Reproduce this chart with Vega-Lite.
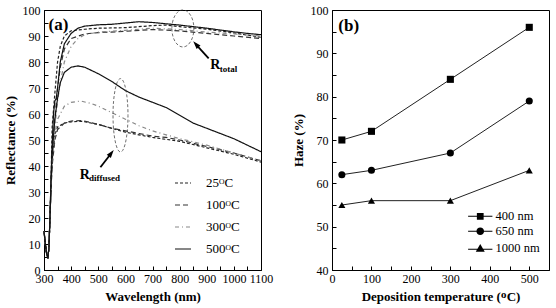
{
  "$schema": "https://vega.github.io/schema/vega-lite/v6.json",
  "background": "white",
  "padding": {"left": 3, "top": 3, "right": 5, "bottom": 2},
  "spacing": 17,
  "resolve": {"scale": {"color": "independent", "strokeDash": "independent", "shape": "independent"}, "legend": {"color": "independent", "strokeDash": "independent", "shape": "independent"}},
  "config": {
    "view": {"stroke": "black", "strokeWidth": 1},
    "font": "Liberation Serif",
    "axis": {
      "grid": false,
      "domainColor": "black",
      "tickColor": "black",
      "tickSize": -4,
      "labelFont": "Liberation Serif",
      "labelFontSize": 12,
      "labelColor": "black",
      "labelPadding": 7,
      "labelOverlap": false,
      "format": "d",
      "titleFont": "Liberation Serif",
      "titleFontSize": 13,
      "titleFontWeight": "bold",
      "titleColor": "black"
    },
    "legend": {"labelFont": "Liberation Serif", "labelColor": "black", "padding": 0}
  },
  "datasets": {
    "refl": [
      {"T":"25ᴼC","k":"total","wl":300,"R":15},{"T":"25ᴼC","k":"total","wl":305,"R":10},{"T":"25ᴼC","k":"total","wl":310,"R":6},{"T":"25ᴼC","k":"total","wl":314,"R":5},{"T":"25ᴼC","k":"total","wl":318,"R":8},{"T":"25ᴼC","k":"total","wl":322,"R":20},{"T":"25ᴼC","k":"total","wl":326,"R":35},
      {"T":"25ᴼC","k":"total","wl":330,"R":55},{"T":"25ᴼC","k":"total","wl":340,"R":68},{"T":"25ᴼC","k":"total","wl":350,"R":80},{"T":"25ᴼC","k":"total","wl":360,"R":86},{"T":"25ᴼC","k":"total","wl":375,"R":90},{"T":"25ᴼC","k":"total","wl":400,"R":92},{"T":"25ᴼC","k":"total","wl":450,"R":92.6},{"T":"25ᴼC","k":"total","wl":500,"R":93},{"T":"25ᴼC","k":"total","wl":600,"R":93.2},{"T":"25ᴼC","k":"total","wl":700,"R":94},{"T":"25ᴼC","k":"total","wl":750,"R":94.2},{"T":"25ᴼC","k":"total","wl":800,"R":93.6},{"T":"25ᴼC","k":"total","wl":900,"R":92.6},{"T":"25ᴼC","k":"total","wl":1000,"R":91.2},{"T":"25ᴼC","k":"total","wl":1100,"R":89.5},

      {"T":"100ᴼC","k":"total","wl":300,"R":15},{"T":"100ᴼC","k":"total","wl":305,"R":10},{"T":"100ᴼC","k":"total","wl":310,"R":6},{"T":"100ᴼC","k":"total","wl":314,"R":5},{"T":"100ᴼC","k":"total","wl":318,"R":8},{"T":"100ᴼC","k":"total","wl":322,"R":20},{"T":"100ᴼC","k":"total","wl":326,"R":33},
      {"T":"100ᴼC","k":"total","wl":330,"R":45},{"T":"100ᴼC","k":"total","wl":340,"R":58},{"T":"100ᴼC","k":"total","wl":350,"R":70},{"T":"100ᴼC","k":"total","wl":360,"R":78},{"T":"100ᴼC","k":"total","wl":375,"R":85},{"T":"100ᴼC","k":"total","wl":400,"R":89},{"T":"100ᴼC","k":"total","wl":450,"R":90.8},{"T":"100ᴼC","k":"total","wl":500,"R":91.3},{"T":"100ᴼC","k":"total","wl":600,"R":91.8},{"T":"100ᴼC","k":"total","wl":700,"R":92.5},{"T":"100ᴼC","k":"total","wl":800,"R":92},{"T":"100ᴼC","k":"total","wl":900,"R":91},{"T":"100ᴼC","k":"total","wl":1000,"R":90},{"T":"100ᴼC","k":"total","wl":1100,"R":89},

      {"T":"300ᴼC","k":"total","wl":300,"R":15},{"T":"300ᴼC","k":"total","wl":305,"R":10},{"T":"300ᴼC","k":"total","wl":310,"R":6},{"T":"300ᴼC","k":"total","wl":314,"R":5},{"T":"300ᴼC","k":"total","wl":318,"R":8},{"T":"300ᴼC","k":"total","wl":322,"R":20},{"T":"300ᴼC","k":"total","wl":326,"R":32},
      {"T":"300ᴼC","k":"total","wl":330,"R":42},{"T":"300ᴼC","k":"total","wl":340,"R":55},{"T":"300ᴼC","k":"total","wl":350,"R":65},{"T":"300ᴼC","k":"total","wl":360,"R":72},{"T":"300ᴼC","k":"total","wl":375,"R":80},{"T":"300ᴼC","k":"total","wl":400,"R":86},{"T":"300ᴼC","k":"total","wl":425,"R":89},{"T":"300ᴼC","k":"total","wl":450,"R":90.5},{"T":"300ᴼC","k":"total","wl":500,"R":91.5},{"T":"300ᴼC","k":"total","wl":600,"R":92.2},{"T":"300ᴼC","k":"total","wl":700,"R":93},{"T":"300ᴼC","k":"total","wl":800,"R":92.5},{"T":"300ᴼC","k":"total","wl":900,"R":91.5},{"T":"300ᴼC","k":"total","wl":1000,"R":90.8},{"T":"300ᴼC","k":"total","wl":1100,"R":90},

      {"T":"500ᴼC","k":"total","wl":300,"R":15},{"T":"500ᴼC","k":"total","wl":305,"R":10},{"T":"500ᴼC","k":"total","wl":310,"R":6},{"T":"500ᴼC","k":"total","wl":314,"R":5},{"T":"500ᴼC","k":"total","wl":318,"R":8},{"T":"500ᴼC","k":"total","wl":322,"R":20},{"T":"500ᴼC","k":"total","wl":326,"R":35},
      {"T":"500ᴼC","k":"total","wl":330,"R":48},{"T":"500ᴼC","k":"total","wl":335,"R":60},{"T":"500ᴼC","k":"total","wl":340,"R":65},{"T":"500ᴼC","k":"total","wl":345,"R":66},{"T":"500ᴼC","k":"total","wl":350,"R":70},{"T":"500ᴼC","k":"total","wl":360,"R":80},{"T":"500ᴼC","k":"total","wl":375,"R":87},{"T":"500ᴼC","k":"total","wl":400,"R":91},{"T":"500ᴼC","k":"total","wl":425,"R":93},{"T":"500ᴼC","k":"total","wl":450,"R":93.8},{"T":"500ᴼC","k":"total","wl":500,"R":94.3},{"T":"500ᴼC","k":"total","wl":550,"R":94.5},{"T":"500ᴼC","k":"total","wl":600,"R":95},{"T":"500ᴼC","k":"total","wl":650,"R":95.5},{"T":"500ᴼC","k":"total","wl":700,"R":95.2},{"T":"500ᴼC","k":"total","wl":750,"R":94.7},{"T":"500ᴼC","k":"total","wl":800,"R":94.2},{"T":"500ᴼC","k":"total","wl":850,"R":93.6},{"T":"500ᴼC","k":"total","wl":900,"R":93},{"T":"500ᴼC","k":"total","wl":950,"R":92.3},{"T":"500ᴼC","k":"total","wl":1000,"R":91.6},{"T":"500ᴼC","k":"total","wl":1050,"R":91},{"T":"500ᴼC","k":"total","wl":1100,"R":90.5},

      {"T":"25ᴼC","k":"diff","wl":300,"R":15},{"T":"25ᴼC","k":"diff","wl":305,"R":10},{"T":"25ᴼC","k":"diff","wl":310,"R":6},{"T":"25ᴼC","k":"diff","wl":314,"R":5},{"T":"25ᴼC","k":"diff","wl":318,"R":8},{"T":"25ᴼC","k":"diff","wl":322,"R":20},{"T":"25ᴼC","k":"diff","wl":326,"R":32},
      {"T":"25ᴼC","k":"diff","wl":330,"R":42},{"T":"25ᴼC","k":"diff","wl":340,"R":52},{"T":"25ᴼC","k":"diff","wl":350,"R":55},{"T":"25ᴼC","k":"diff","wl":375,"R":56.5},{"T":"25ᴼC","k":"diff","wl":400,"R":57},{"T":"25ᴼC","k":"diff","wl":440,"R":57.2},{"T":"25ᴼC","k":"diff","wl":500,"R":56},{"T":"25ᴼC","k":"diff","wl":550,"R":54.5},{"T":"25ᴼC","k":"diff","wl":600,"R":53},{"T":"25ᴼC","k":"diff","wl":650,"R":52},{"T":"25ᴼC","k":"diff","wl":700,"R":51},{"T":"25ᴼC","k":"diff","wl":800,"R":49.5},{"T":"25ᴼC","k":"diff","wl":900,"R":47},{"T":"25ᴼC","k":"diff","wl":1000,"R":44.5},{"T":"25ᴼC","k":"diff","wl":1100,"R":41.5},

      {"T":"100ᴼC","k":"diff","wl":300,"R":15},{"T":"100ᴼC","k":"diff","wl":305,"R":10},{"T":"100ᴼC","k":"diff","wl":310,"R":6},{"T":"100ᴼC","k":"diff","wl":314,"R":5},{"T":"100ᴼC","k":"diff","wl":318,"R":8},{"T":"100ᴼC","k":"diff","wl":322,"R":20},{"T":"100ᴼC","k":"diff","wl":326,"R":31},
      {"T":"100ᴼC","k":"diff","wl":330,"R":40},{"T":"100ᴼC","k":"diff","wl":340,"R":50},{"T":"100ᴼC","k":"diff","wl":350,"R":54},{"T":"100ᴼC","k":"diff","wl":375,"R":56.5},{"T":"100ᴼC","k":"diff","wl":400,"R":57.3},{"T":"100ᴼC","k":"diff","wl":440,"R":57.5},{"T":"100ᴼC","k":"diff","wl":500,"R":56},{"T":"100ᴼC","k":"diff","wl":550,"R":54.5},{"T":"100ᴼC","k":"diff","wl":600,"R":53.5},{"T":"100ᴼC","k":"diff","wl":650,"R":52.5},{"T":"100ᴼC","k":"diff","wl":700,"R":51.5},{"T":"100ᴼC","k":"diff","wl":750,"R":51},{"T":"100ᴼC","k":"diff","wl":800,"R":50},{"T":"100ᴼC","k":"diff","wl":900,"R":47.5},{"T":"100ᴼC","k":"diff","wl":1000,"R":45},{"T":"100ᴼC","k":"diff","wl":1100,"R":42},

      {"T":"300ᴼC","k":"diff","wl":300,"R":15},{"T":"300ᴼC","k":"diff","wl":305,"R":10},{"T":"300ᴼC","k":"diff","wl":310,"R":6},{"T":"300ᴼC","k":"diff","wl":314,"R":5},{"T":"300ᴼC","k":"diff","wl":318,"R":8},{"T":"300ᴼC","k":"diff","wl":322,"R":20},{"T":"300ᴼC","k":"diff","wl":326,"R":32},
      {"T":"300ᴼC","k":"diff","wl":330,"R":42},{"T":"300ᴼC","k":"diff","wl":340,"R":52},{"T":"300ᴼC","k":"diff","wl":350,"R":58},{"T":"300ᴼC","k":"diff","wl":375,"R":63},{"T":"300ᴼC","k":"diff","wl":400,"R":64.5},{"T":"300ᴼC","k":"diff","wl":435,"R":65},{"T":"300ᴼC","k":"diff","wl":475,"R":64},{"T":"300ᴼC","k":"diff","wl":500,"R":63},{"T":"300ᴼC","k":"diff","wl":550,"R":60.5},{"T":"300ᴼC","k":"diff","wl":600,"R":58},{"T":"300ᴼC","k":"diff","wl":650,"R":55.5},{"T":"300ᴼC","k":"diff","wl":700,"R":53.5},{"T":"300ᴼC","k":"diff","wl":750,"R":52},{"T":"300ᴼC","k":"diff","wl":800,"R":50.5},{"T":"300ᴼC","k":"diff","wl":850,"R":49.3},{"T":"300ᴼC","k":"diff","wl":900,"R":48},{"T":"300ᴼC","k":"diff","wl":1000,"R":45},{"T":"300ᴼC","k":"diff","wl":1100,"R":42},

      {"T":"500ᴼC","k":"diff","wl":300,"R":15},{"T":"500ᴼC","k":"diff","wl":305,"R":10},{"T":"500ᴼC","k":"diff","wl":310,"R":6},{"T":"500ᴼC","k":"diff","wl":314,"R":5},{"T":"500ᴼC","k":"diff","wl":318,"R":8},{"T":"500ᴼC","k":"diff","wl":322,"R":20},{"T":"500ᴼC","k":"diff","wl":326,"R":34},
      {"T":"500ᴼC","k":"diff","wl":330,"R":45},{"T":"500ᴼC","k":"diff","wl":340,"R":58},{"T":"500ᴼC","k":"diff","wl":350,"R":66},{"T":"500ᴼC","k":"diff","wl":360,"R":72},{"T":"500ᴼC","k":"diff","wl":375,"R":76},{"T":"500ᴼC","k":"diff","wl":400,"R":78},{"T":"500ᴼC","k":"diff","wl":425,"R":78.5},{"T":"500ᴼC","k":"diff","wl":450,"R":78},{"T":"500ᴼC","k":"diff","wl":500,"R":75.5},{"T":"500ᴼC","k":"diff","wl":550,"R":72.5},{"T":"500ᴼC","k":"diff","wl":600,"R":69},{"T":"500ᴼC","k":"diff","wl":650,"R":66.5},{"T":"500ᴼC","k":"diff","wl":700,"R":64.5},{"T":"500ᴼC","k":"diff","wl":750,"R":62.5},{"T":"500ᴼC","k":"diff","wl":800,"R":59.5},{"T":"500ᴼC","k":"diff","wl":850,"R":56.5},{"T":"500ᴼC","k":"diff","wl":900,"R":54.5},{"T":"500ᴼC","k":"diff","wl":950,"R":52.5},{"T":"500ᴼC","k":"diff","wl":1000,"R":50.5},{"T":"500ᴼC","k":"diff","wl":1050,"R":48},{"T":"500ᴼC","k":"diff","wl":1100,"R":45.5}
    ],
    "haze": [
      {"s":"400 nm","temp":25,"H":70},{"s":"400 nm","temp":100,"H":72},{"s":"400 nm","temp":300,"H":84},{"s":"400 nm","temp":500,"H":96},
      {"s":"650 nm","temp":25,"H":62},{"s":"650 nm","temp":100,"H":63},{"s":"650 nm","temp":300,"H":67},{"s":"650 nm","temp":500,"H":79},
      {"s":"1000 nm","temp":25,"H":55},{"s":"1000 nm","temp":100,"H":56},{"s":"1000 nm","temp":300,"H":56},{"s":"1000 nm","temp":500,"H":63}
    ]
  },
  "hconcat": [
    {
      "width": 217,
      "height": 260,
      "encoding": {
        "x": {"field": "wl", "type": "quantitative", "scale": {"domain": [300, 1100], "nice": false, "zero": false},
          "axis": {"title": "Wavelength (nm)", "values": [300,350,400,450,500,550,600,650,700,750,800,850,900,950,1000,1050,1100], "labelExpr": "datum.value % 100 ? '' : datum.label", "labelFlush": false, "labelOverlap": false, "titlePadding": 6,
            "encode": {"ticks": {"update": {"y2": {"signal": "datum.value % 100 ? -2.5 : -4"}}}}}},
        "y": {"field": "R", "type": "quantitative", "scale": {"domain": [0, 100], "nice": false, "zero": false},
          "axis": {"title": "Reflectance (%)", "values": [0,5,10,15,20,25,30,35,40,45,50,55,60,65,70,75,80,85,90,95,100], "labelExpr": "datum.value % 10 ? '' : datum.label", "labelOverlap": false, "labelFlush": false, "labelPadding": 8, "titlePadding": 5,
            "encode": {"ticks": {"update": {"x2": {"signal": "datum.value % 10 ? 2.5 : 4"}}}}}}
      },
      "layer": [
        {
          "data": {"name": "refl"},
          "mark": {"type": "line", "strokeWidth": 1.2},
          "encoding": {
            "detail": {"field": "k"},
            "strokeDash": {"field": "T", "type": "nominal", "scale": {"domain": ["25ᴼC", "100ᴼC", "300ᴼC", "500ᴼC"], "range": [[3, 2], [5, 3], [4, 3, 1, 3], [1, 0]]},
              "legend": {"title": null, "orient": "none", "legendX": 130, "legendY": 164, "symbolType": "stroke", "symbolSize": 256, "symbolStrokeWidth": 1.2, "labelFontSize": 13, "labelOffset": 14, "rowPadding": 6}},
            "color": {"field": "T", "type": "nominal", "scale": {"domain": ["25ᴼC", "100ᴼC", "300ᴼC", "500ᴼC"], "range": ["#222222", "#333333", "#888888", "#111111"]},
              "legend": {"title": null, "orient": "none", "legendX": 130, "legendY": 164, "symbolType": "stroke", "symbolSize": 256, "symbolStrokeWidth": 1.2, "labelFontSize": 13, "labelOffset": 14, "rowPadding": 6}}
          }
        },
        {
          "data": {"values": [{"wl": 812, "R": 92.9}]},
          "mark": {"type": "point", "shape": "M -0.595 0 A 0.595 1 0 1 0 0.595 0 A 0.595 1 0 1 0 -0.595 0 Z", "size": 1369, "filled": false, "stroke": "#333", "strokeWidth": 1, "strokeDash": [3, 2]}
        },
        {
          "data": {"values": [{"wl": 582, "R": 59.5}]},
          "mark": {"type": "point", "shape": "M -0.204 0 A 0.204 1 0 1 0 0.204 0 A 0.204 1 0 1 0 -0.204 0 Z", "size": 5388, "filled": false, "stroke": "#333", "strokeWidth": 1, "strokeDash": [3, 2]}
        },
        {
          "data": {"values": [{"wl": 907, "R": 81.4, "wl2": 860, "R2": 86.8}, {"wl": 508, "R": 39.5, "wl2": 548, "R2": 44.9}]},
          "mark": {"type": "rule", "strokeWidth": 1.8, "color": "black"},
          "encoding": {"x2": {"field": "wl2"}, "y2": {"field": "R2"}}
        },
        {
          "data": {"values": [{"wl": 860, "R": 86.8}]},
          "mark": {"type": "point", "shape": "M 0 -1 L 0.65 1 L -0.65 1 Z", "size": 64, "filled": true, "color": "black", "angle": 318, "opacity": 1}
        },
        {
          "data": {"values": [{"wl": 548, "R": 44.9}]},
          "mark": {"type": "point", "shape": "M 0 -1 L 0.65 1 L -0.65 1 Z", "size": 64, "filled": true, "color": "black", "angle": 38, "opacity": 1}
        },
        {
          "data": {"values": [{"wl": 913, "R": 77.5, "txt": "R"}, {"wl": 432, "R": 35, "txt": "R"}]},
          "mark": {"type": "text", "align": "left", "baseline": "alphabetic", "fontSize": 14, "fontWeight": "bold", "font": "Liberation Serif", "color": "black"},
          "encoding": {"text": {"field": "txt"}}
        },
        {
          "data": {"values": [{"wl": 948, "R": 76.2, "txt": "total"}, {"wl": 466, "R": 34.4, "txt": "diffused"}]},
          "mark": {"type": "text", "align": "left", "baseline": "alphabetic", "fontSize": 9, "fontWeight": "bold", "font": "Liberation Serif", "color": "black"},
          "encoding": {"text": {"field": "txt"}}
        },
        {
          "data": {"values": [{"wl": 317, "R": 92.5, "txt": "(a)"}]},
          "mark": {"type": "text", "align": "left", "baseline": "alphabetic", "fontSize": 17, "fontWeight": "bold", "font": "Liberation Serif", "color": "black"},
          "encoding": {"text": {"field": "txt"}}
        }
      ]
    },
    {
      "width": 217,
      "height": 260,
      "data": {"name": "haze"},
      "resolve": {"scale": {"shape": "independent"}, "legend": {"shape": "independent"}},
      "encoding": {
        "x": {"field": "temp", "type": "quantitative", "scale": {"domain": [0, 550], "nice": false},
          "axis": {"title": "Deposition temperature (ᴼC)", "values": [0,50,100,150,200,250,300,350,400,450,500,550], "labelExpr": "datum.value % 100 ? '' : datum.label", "labelFlush": false, "labelOverlap": false, "titlePadding": 6,
            "encode": {"ticks": {"update": {"y2": {"signal": "datum.value % 100 ? -2.5 : -4"}}}}}},
        "y": {"field": "H", "type": "quantitative", "scale": {"domain": [40, 100], "nice": false, "zero": false},
          "axis": {"title": "Haze (%)", "values": [40,45,50,55,60,65,70,75,80,85,90,95,100], "labelExpr": "datum.value % 10 ? '' : datum.label", "labelOverlap": false, "labelFlush": false, "labelPadding": 8, "titlePadding": 5,
            "encode": {"ticks": {"update": {"x2": {"signal": "datum.value % 10 ? 2.5 : 4"}}}}}}
      },
      "layer": [
        {
          "mark": {"type": "line", "color": "#222222", "strokeWidth": 1},
          "encoding": {"detail": {"field": "s"}}
        },
        {
          "mark": {"type": "point", "filled": true, "color": "black", "size": 50, "opacity": 1},
          "encoding": {
            "shape": {"field": "s", "type": "nominal", "scale": {"domain": ["400 nm", "650 nm", "1000 nm"], "range": ["square", "circle", "triangle-up"]}, "legend": null}
          }
        },
        {
          "transform": [{"filter": "false"}],
          "mark": {"type": "point", "filled": true, "color": "black", "opacity": 1},
          "encoding": {
            "shape": {"field": "s", "type": "nominal",
              "scale": {"domain": ["400 nm", "650 nm", "1000 nm"], "range": [
                "M -2.7 -0.11 H 2.7 V 0.11 H -2.7 Z M -0.75 -0.75 H 0.75 V 0.75 H -0.75 Z",
                "M -2.7 -0.11 H 2.7 V 0.11 H -2.7 Z M -0.85 0 A 0.85 0.85 0 1 1 0.85 0 A 0.85 0.85 0 1 1 -0.85 0 Z",
                "M -2.7 0.09 H 2.7 V 0.31 H -2.7 Z M -1 0.75 L 0 -0.95 L 1 0.75 Z"]},
              "legend": {"title": null, "orient": "none", "legendX": 142, "legendY": 200, "symbolSize": 81, "symbolOpacity": 1, "labelOffset": 9, "rowPadding": 1, "labelFontSize": 12.5}}
          }
        },
        {
          "data": {"values": [{"temp": 16, "H": 95.1, "txt": "(b)"}]},
          "mark": {"type": "text", "align": "left", "baseline": "alphabetic", "fontSize": 17, "fontWeight": "bold", "font": "Liberation Serif", "color": "black"},
          "encoding": {"text": {"field": "txt"}}
        }
      ]
    }
  ]
}
